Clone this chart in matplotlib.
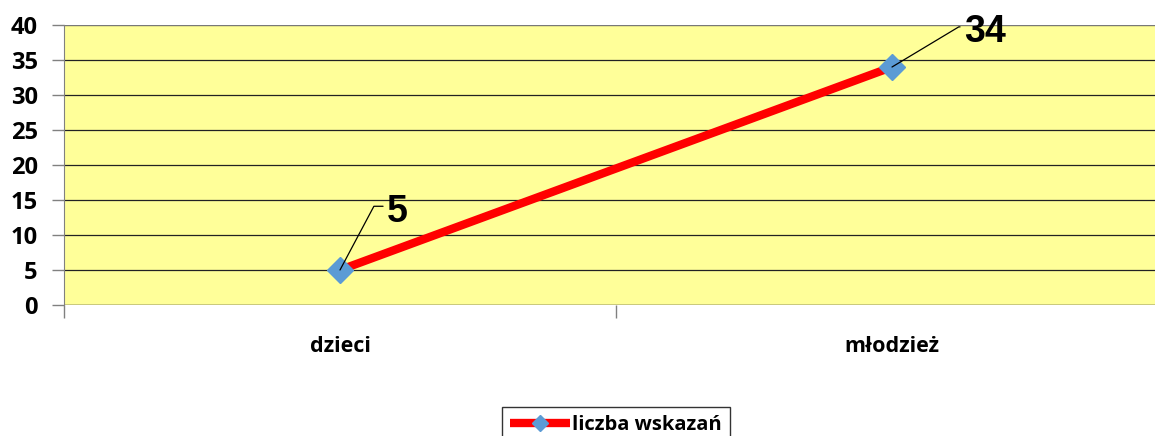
import matplotlib.pyplot as plt
from matplotlib.ticker import FixedLocator

categories = ["dzieci", "młodzież"]
values = [5, 34]
series_name = "liczba wskazań"
y_ticks = [0, 5, 10, 15, 20, 25, 30, 35, 40]

LINE = "#FF0000"
MARK = "#5B9BD5"
BG = "#FFFF99"

plt.rcParams.update({"font.family": ["Open Sans", "DejaVu Sans"], "font.weight": "bold"})

fig = plt.figure(figsize=(11.55, 4.36), dpi=100)
ax = fig.add_axes([64 / 1155, 1 - 305 / 436, 1104 / 1155, 280 / 436])
ax.set_facecolor(BG)

x = list(range(len(categories)))
ax.plot(x, values, color=LINE, lw=6, marker="D", ms=13, mfc=MARK, mec=MARK,
        solid_capstyle="butt", label=series_name, zorder=3)

ax.set_xlim(-0.5, len(categories) - 0.5)
ax.set_ylim(0, 40)
ax.set_yticks(y_ticks)
ax.yaxis.grid(True, color="#222222", lw=0.9)
ax.set_axisbelow(True)
for side in ["top", "right", "bottom"]:
    ax.spines[side].set_visible(False)
ax.spines["left"].set_color("#808080")
ax.axhline(40, color="#8a8a8a", lw=1.2, zorder=2)
ax.axhline(0, color="#222222", lw=0.9, zorder=2)

ax.set_xticks(x)
ax.set_xticklabels(categories)
ax.xaxis.set_minor_locator(FixedLocator([i - 0.5 for i in range(len(categories) + 1)]))
ax.tick_params(axis="x", which="major", length=0, pad=22, labelsize=15.5)
ax.tick_params(axis="x", which="minor", length=9, color="#808080", width=1)
ax.tick_params(axis="y", length=9, color="#808080", width=1, pad=10, labelsize=17)

# data labels with leader lines
offsets = [(34, 42), (52, 25)]
angles = [62, 31]
for xi, v, (dx, dy), ang in zip(x, values, offsets, angles):
    ax.annotate(str(v), xy=(xi, v), xytext=(dx, dy), textcoords="offset points",
                fontsize=27, fontweight="bold", family="Liberation Sans",
                ha="left", va="center",
                arrowprops=dict(arrowstyle="-", color="black", lw=0.9,
                                relpos=(0, 0.65), shrinkA=1, shrinkB=0,
                                connectionstyle=f"angle,angleA=0,angleB={ang},rad=0"))

leg = fig.legend(loc="upper center", bbox_to_anchor=(616 / 1155, 1 - 397 / 436),
                 frameon=True, fancybox=False, handlelength=3.0, handletextpad=0.1,
                 markerscale=0.6, borderpad=0.4, prop={"size": 14.5})
leg.get_frame().set_edgecolor("black")
leg.get_frame().set_linewidth(1.0)

fig.savefig("out.png", dpi=100, facecolor="white")
